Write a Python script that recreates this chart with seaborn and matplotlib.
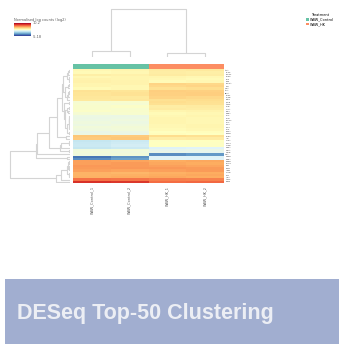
import numpy as np
import pandas as pd
import matplotlib
matplotlib.use('Agg')
import matplotlib.pyplot as plt
import seaborn as sns
from matplotlib.patches import Patch, Rectangle
from scipy.cluster import hierarchy

samples = ['WBW_Control_1', 'WBW_Control_2', 'WBW_HK_1', 'WBW_HK_2']
treatment = ['WBW_Control', 'WBW_Control', 'WBW_HK', 'WBW_HK']
treat_colors = {'WBW_Control': '#66c2a5', 'WBW_HK': '#fc8d62'}

genes = ['ompA', 'rpsJ', 'tufA', 'acpP', 'rplB', 'cspA', 'groL', 'dnaK', 'fusA', 'rpoB',
         'atpD', 'gapA', 'eno', 'pgk', 'fbaA', 'tpiA', 'pykF', 'sodB', 'katE', 'ahpC',
         'lpp', 'ompF', 'ompC', 'rplC', 'rplD', 'rpsC', 'rplV', 'rpsS', 'rplP', 'rpmC',
         'cydA', 'cydB', 'nuoA', 'nuoB', 'sdhA', 'sdhB', 'frdA', 'hdeA', 'hdeB', 'gadA',
         'gadB', 'osmY', 'dps', 'rmf', 'cspD', 'ibpA', 'ibpB', 'clpB', 'htpG', 'grpE']

# log2 normalised counts, in displayed row order
ctrl1 = [3.0, 3.0, 2.9, 2.8, 2.2, 2.2, 2.3, 2.9, 2.8, 2.0,
         2.1, 2.0, 3.1, 3.2, 3.8, 3.9, 3.8, 3.7, 3.6, 4.8,
         4.7, 3.3, 1.6, 1.6, 1.5, 1.6, 1.7, 1.8, 1.7, 0.3,
         0.2, 0.4, 1.4, 1.5, 1.7, 1.8, 1.7, 0.2, -3.6, -3.0,
         5.9, 5.9, 6.1, 5.4, 5.4, 5.5, 5.9, 6.0, 7.0, 8.6]
ctrl2 = [3.1, 2.9, 3.0, 2.9, 2.3, 2.1, 2.2, 3.0, 2.9, 2.1,
         2.0, 2.1, 3.0, 3.1, 3.9, 3.8, 3.9, 3.6, 3.7, 4.7,
         4.8, 3.2, 1.7, 1.5, 1.6, 1.7, 1.6, 1.9, 1.8, 0.5,
         0.4, 0.6, 1.5, 1.4, 1.8, 1.7, 1.8, 0.4, -2.8, -2.4,
         5.8, 6.0, 6.0, 5.5, 5.3, 5.6, 5.8, 6.1, 6.9, 8.4]
hk1 = [4.4, 4.3, 3.5, 3.4, 3.4, 3.5, 3.0, 3.0, 4.0, 4.1,
       4.0, 2.8, 2.9, 2.8, 4.5, 4.6, 4.5, 4.4, 4.0, 4.1,
       3.4, 3.5, 3.0, 2.9, 3.0, 2.9, 3.0, 2.9, 2.8, 2.5,
       2.4, 2.5, 2.5, 2.6, 1.3, 1.4, -2.9, 0.9, 1.0, 1.1,
       5.6, 5.7, 5.9, 5.6, 5.5, 5.7, 5.9, 6.1, 6.7, 7.1]
hk2 = [4.3, 4.4, 3.6, 3.3, 3.5, 3.4, 3.1, 2.9, 4.1, 4.0,
       3.9, 2.9, 2.8, 2.9, 4.6, 4.5, 4.6, 4.3, 4.1, 4.0,
       3.5, 3.4, 2.9, 3.0, 2.9, 3.0, 2.9, 3.0, 2.9, 2.4,
       2.5, 2.4, 2.6, 2.5, 1.4, 1.3, -2.6, 1.0, 0.9, 1.0,
       5.7, 5.6, 5.8, 5.7, 5.6, 5.6, 6.0, 6.0, 6.6, 7.2]

vmin, vmax = -5.18, 10.2

df = pd.DataFrame({samples[0]: ctrl1, samples[1]: ctrl2,
                   samples[2]: hk1, samples[3]: hk2}, index=genes)
col_cols = pd.Series([treat_colors[t] for t in treatment], index=samples, name='')


def keep_input_order(Z, n):
    # flip each merge so the leaves stay as close to the input order as possible
    Z = Z.copy()
    members = {i: [i] for i in range(n)}
    for k in range(len(Z)):
        a, b = int(Z[k, 0]), int(Z[k, 1])
        if np.mean(members[a]) > np.mean(members[b]):
            Z[k, 0], Z[k, 1] = b, a
        members[n + k] = members[a] + members[b]
    return Z


def best_linkage(X):
    # try the usual methods, keep the one whose leaf order best follows the input
    best, best_score = None, None
    for method in ['ward', 'average', 'complete', 'weighted', 'centroid', 'median']:
        Z = keep_input_order(hierarchy.linkage(X, method), len(X))
        leaves = hierarchy.leaves_list(Z)
        score = np.abs(leaves - np.arange(len(X))).sum()
        if best_score is None or score < best_score:
            best, best_score = Z, score
    return best


row_link = best_linkage(df.values)
col_link = keep_input_order(hierarchy.linkage(df.values.T, 'average'), df.shape[1])

W, H = 339, 344
g = sns.clustermap(df, cmap='RdYlBu_r', col_colors=col_cols, vmin=vmin, vmax=vmax,
                   row_linkage=row_link, col_linkage=col_link,
                   figsize=(W / 100, H / 100), dendrogram_ratio=(0.2, 0.2),
                   colors_ratio=0.02, cbar_pos=(14 / W, 1 - 36 / H, 17 / W, 13 / H),
                   yticklabels=True, xticklabels=True,
                   cbar_kws={'ticks': [vmin, vmax]})
fig = g.fig
fig.set_dpi(100)

def box(x0, y0, x1, y1):
    return [x0 / W, 1 - y1 / H, (x1 - x0) / W, (y1 - y0) / H]

g.ax_heatmap.set_position(box(73, 69, 224, 183))
g.ax_col_colors.set_position(box(73, 64, 224, 69))
g.ax_col_dendrogram.set_position(box(73, 7, 224, 57))
g.ax_row_dendrogram.set_position(box(7, 69, 70, 183))

for ax in [g.ax_row_dendrogram, g.ax_col_dendrogram]:
    for coll in ax.collections:
        coll.set_color('#d4d4d4')
        coll.set_linewidth(0.8)

hm = g.ax_heatmap
hm.set_xlabel('')
hm.set_ylabel('')
hm.tick_params(axis='y', labelsize=1.6, length=0, pad=1, labelcolor='#555555')
hm.tick_params(axis='x', labelsize=2.5, length=0, pad=2, labelcolor='#555555')
g.ax_col_colors.tick_params(left=False, labelleft=False, right=False, labelright=False)

cb = g.cax
cb.tick_params(labelsize=2.5, length=0, pad=1, labelcolor='#555555')
cb.set_yticklabels(['%.2f' % vmin, '%.1f' % vmax])
cb.set_title('Normalised log counts (log2)', fontsize=2.5, loc='left', pad=1.5,
             color='#555555')
for s in cb.spines.values():
    s.set_visible(False)

handles = [Patch(facecolor=c, label=k) for k, c in treat_colors.items()]
fig.legend(handles=handles, title='Treatment', loc='upper left',
           bbox_to_anchor=(304 / W, 1 - 11 / H), frameon=False, fontsize=2.5,
           title_fontsize=2.5, handlelength=0.8, handleheight=0.8,
           handletextpad=0.5, labelspacing=0.2, borderpad=0)

fig.patches.append(Rectangle((5 / W, 0), 1 - 5 / W, 1 - 279 / H,
                             transform=fig.transFigure, facecolor='#a1aed0',
                             edgecolor='none', zorder=0))
fig.text(17 / W, 1 - 314 / H, 'DESeq Top-50 Clustering', fontsize=15.5,
         fontweight='bold', color='#eceef4', va='center', ha='left',
         family='Liberation Sans')

fig.savefig('out.png', dpi=100)
